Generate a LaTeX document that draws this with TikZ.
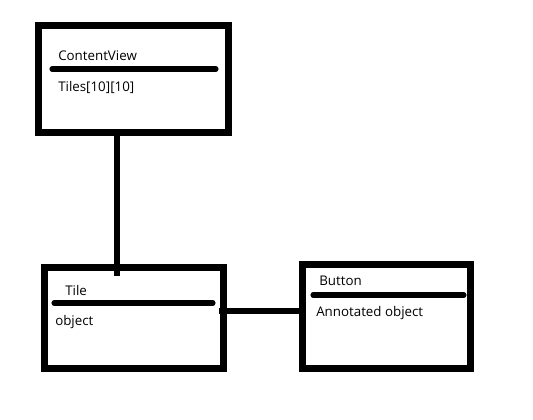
\documentclass[tikz,border=0pt]{standalone}
\usepackage{fontspec}
\setmainfont{Open Sans}
\begin{document}
\begin{tikzpicture}[x=0.75pt,y=-0.75pt,
  box/.style={draw=black,line width=5.25pt,inner sep=0pt,minimum width=#1},
  divider/.style={line width=3.8pt,line cap=round},
  conn/.style={line width=3.8pt},
  lbl/.style={anchor=base west,inner sep=0pt,font=\fontsize{10}{12}\selectfont,text=black}]
\useasboundingbox[fill=white] (0,0) rectangle (533,420);
% boxes
\node[box=190*0.75pt,minimum height=107*0.75pt] (cv) at (133,79.5) {};
\node[box=179*0.75pt,minimum height=101*0.75pt] (tile) at (133.5,318.5) {};
\node[box=168*0.75pt,minimum height=104*0.75pt] (btn) at (386,317) {};
% dividers
\coordinate (cvdl) at (52,69); \coordinate (cvdr) at (216,69);
\draw[divider] (cvdl) -- (cvdr);
\coordinate (tdl) at (54,303); \coordinate (tdr) at (213,303);
\draw[divider] (tdl) -- (tdr);
\coordinate (bdl) at (313,295); \coordinate (bdr) at (464,295);
\draw[divider] (bdl) -- (bdr);
% texts
\node[lbl] (cvname) at (58,61) {ContentView};
\node[lbl] (cvattr) at (58,92) {Tiles[10][10]};
\node[lbl] (tname) at (65,296) {Tile};
\node[lbl] (tattr) at (55,326) {object};
\node[lbl] (bname) at (319,286) {Button};
\node[lbl] (battr) at (316,317) {Annotated object};
% connectors
\coordinate (tin) at (117,276);
\draw[conn] (cv.south -| tin) -- (tin);
\coordinate (tr) at (219,311);
\draw[conn] (tr) -- (btn.west |- tr);
\end{tikzpicture}
\end{document}
